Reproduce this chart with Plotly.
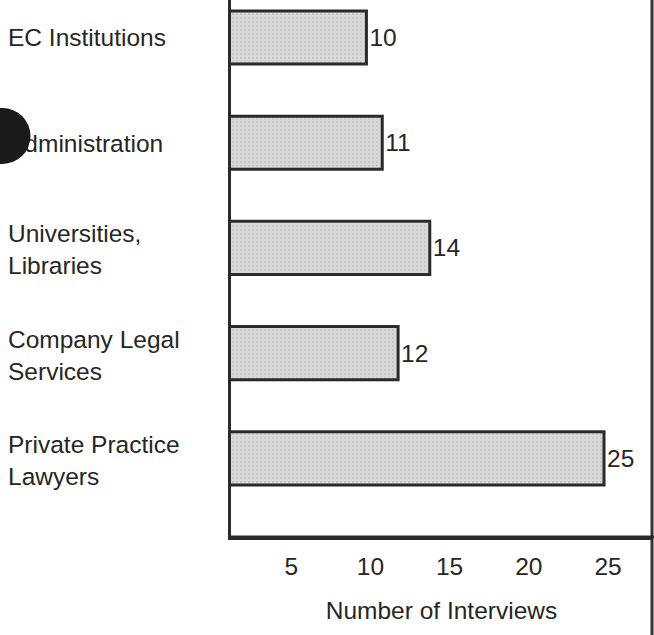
import plotly.graph_objects as go

categories = ["EC Institutions", "Administration", "Universities,<br>Libraries",
              "Company Legal<br>Services", "Private Practice<br>Lawyers"]
interviews = [10, 11, 14, 12, 25]
tick_values = [5, 10, 15, 20, 25]
tick_labels = ["5", "10", "15", "20", "25"]
axis_title = "Number of Interviews"

W, H = 654, 635
R, T, B = 2, 0, 98
pw = W - R          # plot area spans the full width (left margin 0)
ph = H - T - B
AX = 231            # pixel position of the value-axis origin line
FONT = "Liberation Sans, Arial, Helvetica, sans-serif"
FS = 24.5
INK = "#262626"

fig = go.Figure()
fig.add_trace(go.Bar(
    y=categories, x=interviews, orientation="h", base=0,
    width=0.505,
    marker=dict(
        color="#d6d6d6",
        line=dict(color="#2b2b2b", width=3),
        pattern=dict(shape=".", fgcolor="#b4b4b4", bgcolor="#d9d9d9", size=4, solidity=0.25),
    ),
    text=[str(v) for v in interviews], textposition="outside",
    textfont=dict(family=FONT, size=FS, color=INK),
    cliponaxis=False, showlegend=False, hoverinfo="skip",
))
# invisible carrier so the left-aligned label axis gets its categories
fig.add_trace(go.Scatter(
    y=categories, x=[None] * len(categories), yaxis="y2", mode="markers",
    marker=dict(size=0, opacity=0), showlegend=False, hoverinfo="skip",
))

# right border running the full height of the page
fig.add_shape(type="line", xref="paper", yref="paper",
              x0=1, x1=1, y0=-B / ph, y1=1,
              line=dict(color="#333333", width=3))
# bottom rule reaching the page edge
fig.add_shape(type="line", xref="paper", yref="paper",
              x0=AX / pw, x1=W / pw, y0=0, y1=0,
              line=dict(color="#2b2b2b", width=3))
# hole-punch mark on the scan
cx, cy, r = 2.5, 136, 28
fig.add_shape(type="circle", xref="paper", yref="paper",
              x0=(cx - r) / pw, x1=(cx + r) / pw,
              y0=(ph - (cy + r)) / ph, y1=(ph - (cy - r)) / ph,
              fillcolor="#1a1a1a", line=dict(width=0), layer="above")

fig.update_layout(
    xaxis=dict(
        domain=[AX / pw, 1],
        range=[1.45, 28.03], tickvals=tick_values, ticktext=tick_labels,
        showgrid=False, zeroline=False, showline=True, linecolor="#2b2b2b", linewidth=3,
        ticks="outside", ticklen=6, tickcolor="rgba(0,0,0,0)", ticklabelshift=4,
        tickfont=dict(family=FONT, size=FS, color=INK),
        title=dict(text=axis_title, font=dict(family=FONT, size=FS, color=INK), standoff=23),
    ),
    yaxis=dict(
        categoryorder="array", categoryarray=categories,
        range=[4.748, -0.357], showticklabels=False, ticks="",
        showgrid=False, zeroline=False, showline=True, linecolor="#2b2b2b", linewidth=3,
    ),
    yaxis2=dict(
        overlaying="y", side="right", anchor="free", position=7 / pw,
        categoryorder="array", categoryarray=categories,
        range=[4.72, -0.357], ticks="", showline=False, showgrid=False, zeroline=False,
        tickfont=dict(family=FONT, size=FS, color=INK),
    ),
    width=W, height=H, margin=dict(l=0, r=R, t=T, b=B, autoexpand=False),
    paper_bgcolor="white", plot_bgcolor="white",
    font=dict(family=FONT, color=INK),
)
fig.write_html("out.html", config={"displayModeBar": False},
               post_script="document.body.style.margin='0px';")
